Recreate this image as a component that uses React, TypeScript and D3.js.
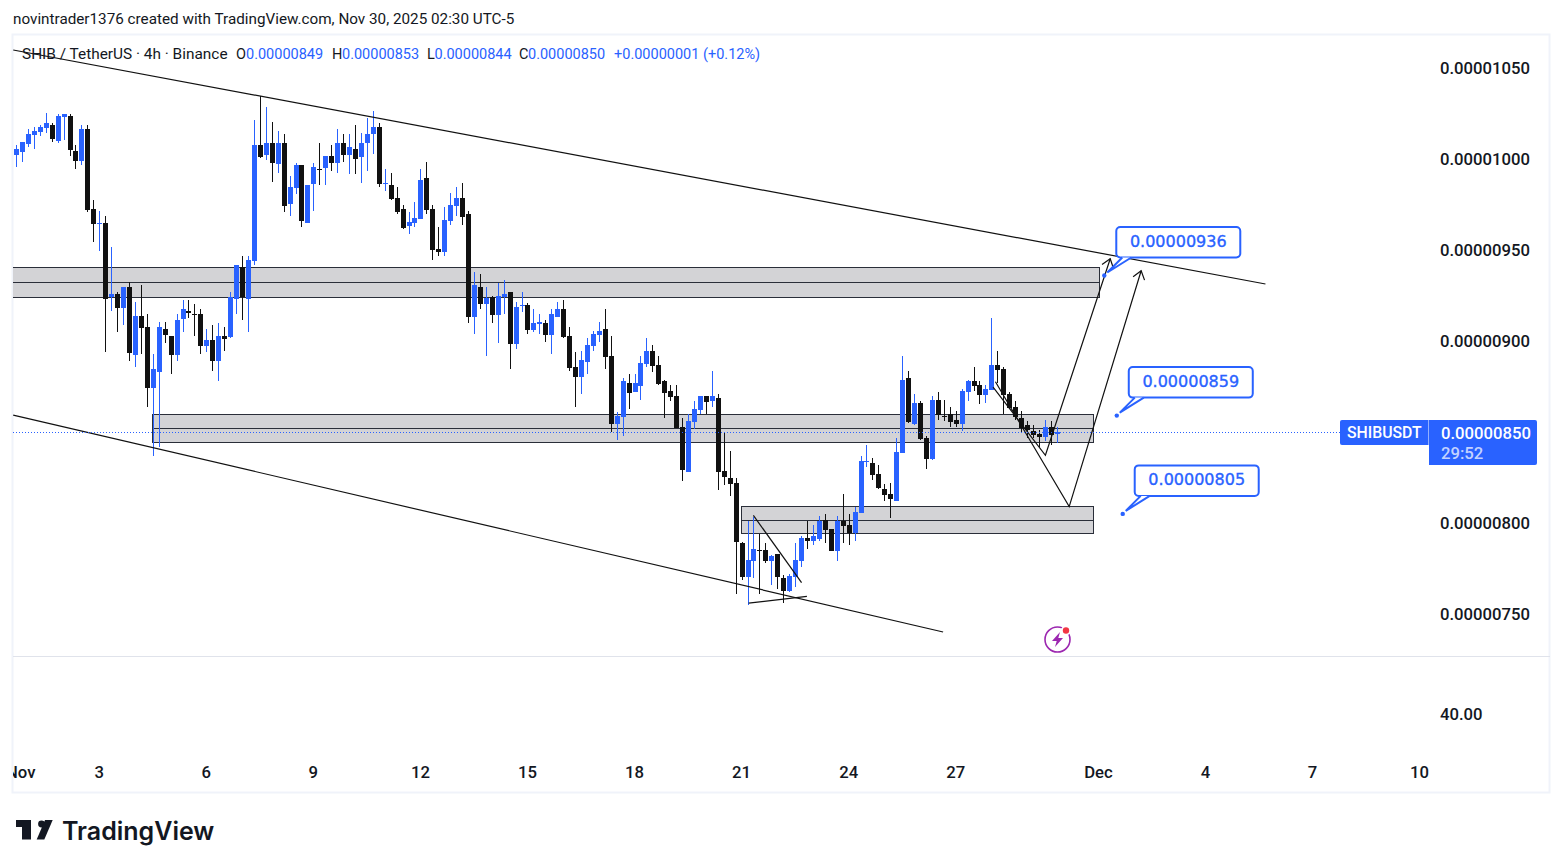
import React, { useEffect, useRef } from 'react';
import * as d3 from 'd3';

// prices are kept as price x 1e8, bars are 4h apart, index 0 is the first visible bar
const opens = [
  1002.2, 1003.8, 1008.2, 1013.2, 1014.8, 1017.0, 1018.7, 1009.9, 1023.1, 1023.6, 1004.4, 998.9, 1016.5, 972.5, 964.5, 964.8,
  924.0, 925.8, 918.1, 929.7, 892.3, 913.7, 907.7, 874.2, 883.0, 906.6, 902.7, 892.3, 912.1, 916.5, 914.8, 914.8,
  897.2, 900.5, 889.0, 902.7, 902.2, 923.1, 940.6, 923.1, 943.9, 1007.7, 1002.2, 1008.8, 997.2, 1008.8, 975.3, 984.1,
  996.7, 964.8, 986.3, 994.5, 995.0, 1001.6, 997.8, 1008.8, 1002.2, 1005.5, 1001.1, 1008.8, 1013.7, 1017.6, 986.4, 985.7,
  978.6, 972.5, 963.2, 964.8, 967.0, 989.5, 972.5, 950.5, 948.9, 965.9, 974.2, 978.6, 969.8, 913.2, 929.7, 920.3,
  924.2, 914.3, 924.2, 926.9, 898.3, 919.4, 919.8, 906.0, 909.5, 909.9, 903.3, 913.2, 917.6, 902.7, 885.7, 880.2,
  888.5, 897.2, 903.3, 906.6, 891.8, 854.4, 858.2, 876.9, 872.0, 875.3, 887.4, 894.5, 886.8, 878.0, 872.5, 869.8,
  852.7, 828.0, 855.5, 862.1, 869.8, 867.0, 868.7, 828.6, 824.7, 822.0, 789.0, 770.3, 779.1, 785.2, 785.2, 779.1,
  783.0, 769.8, 762.6, 770.3, 779.1, 791.8, 790.1, 791.2, 801.6, 796.7, 784.6, 801.1, 798.9, 794.5, 805.5, 833.5,
  833.0, 826.9, 818.7, 815.9, 812.1, 838.4, 879.6, 854.4, 865.9, 846.7, 835.1, 867.5, 858.8, 859.9, 856.6, 854.4,
  871.9, 878.0, 875.8, 870.3, 873.0, 886.8, 884.6, 870.8, 863.7, 857.7, 853.8, 850.5, 848.9, 847.2, 852.7, 848.8,
];
const closes = [
  1005.5, 1009.3, 1013.7, 1015.4, 1017.6, 1019.8, 1011.0, 1023.6, 1024.7, 1004.9, 998.9, 1016.5, 972.0, 964.3, 964.8, 923.1,
  925.8, 918.1, 929.7, 893.4, 913.7, 907.1, 874.2, 884.6, 907.7, 903.3, 892.3, 911.5, 917.6, 915.4, 914.3, 897.2,
  900.5, 889.0, 902.7, 901.1, 924.0, 941.7, 924.0, 944.5, 1007.7, 1001.1, 1008.8, 997.8, 1008.8, 974.2, 984.6, 996.7,
  965.9, 985.7, 995.6, 993.9, 1001.6, 997.8, 1008.8, 1002.2, 1006.6, 1000.0, 1008.8, 1013.7, 1017.6, 986.3, 986.8, 978.0,
  970.9, 962.1, 965.4, 967.6, 988.4, 972.0, 950.0, 948.9, 966.5, 974.7, 978.6, 968.1, 913.2, 930.8, 920.3, 923.6,
  914.3, 924.7, 925.8, 898.3, 918.7, 919.8, 906.0, 909.9, 910.4, 903.3, 914.8, 917.6, 902.2, 885.2, 880.2, 889.6,
  897.8, 903.8, 905.5, 891.2, 854.4, 858.8, 878.0, 871.4, 876.9, 887.9, 894.5, 886.3, 876.4, 871.4, 869.2, 852.2,
  829.1, 856.0, 862.6, 869.8, 866.5, 869.8, 828.0, 825.3, 821.4, 789.6, 770.3, 779.7, 785.7, 784.8, 779.1, 781.9,
  770.3, 762.6, 770.9, 779.7, 791.8, 790.1, 792.9, 801.1, 796.1, 784.6, 801.1, 798.3, 794.5, 806.0, 834.1, 834.1,
  826.4, 819.2, 815.4, 813.2, 839.0, 878.5, 855.5, 865.9, 846.1, 835.1, 867.5, 859.3, 858.4, 855.5, 854.4, 872.5,
  878.0, 875.2, 870.3, 873.6, 886.8, 884.0, 870.3, 863.2, 858.2, 852.2, 851.1, 848.3, 847.2, 852.7, 848.3, 850.0,
];
const highs = [
  1007.7, 1009.5, 1016.5, 1017.6, 1018.7, 1025.3, 1019.8, 1024.7, 1024.7, 1024.7, 1007.7, 1018.7, 1018.7, 977.5, 971.4, 968.7,
  951.6, 926.9, 929.7, 932.4, 921.4, 930.8, 914.8, 892.8, 910.4, 910.4, 902.7, 914.8, 922.5, 922.5, 920.3, 917.6,
  906.6, 908.8, 909.9, 907.7, 926.9, 941.7, 946.7, 946.7, 1021.4, 1034.6, 1028.6, 1020.3, 1015.4, 1013.7, 990.6, 997.8,
  996.7, 985.7, 997.8, 1008.8, 1001.6, 1007.7, 1016.5, 1013.7, 1013.7, 1018.7, 1014.3, 1022.5, 1026.4, 1019.8, 994.5, 992.3,
  984.6, 974.7, 970.9, 976.4, 994.5, 998.3, 974.7, 962.6, 973.6, 981.3, 984.6, 986.8, 971.4, 937.9, 936.8, 929.7,
  924.7, 931.9, 933.5, 926.9, 921.4, 926.9, 920.9, 917.6, 914.8, 911.5, 917.6, 921.4, 922.5, 907.7, 894.0, 894.5,
  901.6, 905.5, 910.4, 917.6, 902.7, 861.0, 879.7, 881.9, 881.9, 891.8, 901.6, 897.8, 891.8, 878.6, 875.8, 875.8,
  857.7, 859.9, 867.0, 869.8, 869.8, 883.5, 870.9, 849.4, 839.6, 824.7, 789.6, 801.1, 803.3, 794.0, 789.0, 782.4,
  783.0, 771.4, 772.0, 789.0, 792.9, 801.1, 798.9, 803.8, 804.9, 796.7, 803.8, 815.9, 804.9, 808.8, 836.8, 842.9,
  835.7, 831.9, 821.4, 822.0, 846.7, 891.7, 883.5, 870.8, 867.0, 847.8, 869.7, 871.9, 867.5, 863.7, 861.5, 873.6,
  878.5, 885.7, 878.0, 875.8, 912.6, 894.5, 885.7, 871.9, 867.0, 861.5, 856.0, 853.8, 851.1, 856.6, 856.0, 852.7,
];
const lows = [
  995.8, 998.3, 1006.6, 1005.5, 1012.6, 1014.3, 1009.3, 1008.8, 1010.4, 1001.6, 994.5, 996.7, 970.9, 954.4, 949.4, 893.9,
  916.5, 904.9, 908.8, 889.0, 885.7, 892.8, 863.7, 836.8, 841.7, 898.9, 881.9, 889.0, 904.9, 912.6, 902.7, 892.8,
  893.9, 883.5, 878.0, 894.5, 901.6, 914.8, 911.5, 904.9, 941.7, 1000.5, 999.4, 987.4, 992.3, 970.9, 968.7, 980.8,
  962.6, 964.8, 971.4, 985.7, 985.7, 993.4, 992.3, 998.3, 991.7, 991.7, 986.8, 993.4, 1002.7, 984.6, 982.4, 977.5,
  969.8, 961.5, 958.8, 962.6, 967.0, 969.8, 944.5, 946.7, 946.7, 963.7, 968.7, 963.7, 909.9, 903.8, 917.6, 891.7,
  909.9, 898.9, 914.8, 884.6, 895.6, 915.9, 903.8, 904.9, 903.8, 899.4, 892.9, 913.2, 901.6, 883.5, 863.7, 870.9,
  881.9, 894.5, 899.4, 884.6, 850.0, 845.6, 847.8, 862.6, 872.0, 867.6, 885.7, 883.0, 875.8, 857.7, 867.0, 852.2,
  823.1, 828.0, 851.6, 859.9, 859.9, 863.7, 818.1, 820.9, 814.8, 761.0, 768.7, 754.9, 769.8, 761.0, 778.0, 765.9,
  763.7, 756.0, 762.1, 764.8, 775.8, 785.7, 787.9, 790.1, 789.0, 784.6, 779.1, 789.0, 787.9, 790.1, 805.5, 830.8,
  823.6, 818.7, 812.1, 802.7, 812.1, 838.4, 854.9, 853.8, 845.6, 829.6, 834.6, 856.6, 856.0, 852.7, 852.7, 850.5,
  867.0, 872.5, 865.4, 865.9, 873.0, 876.9, 859.9, 863.2, 856.6, 849.4, 846.7, 846.7, 841.7, 845.0, 842.8, 843.9,
];

const lastPrice = 850;
const priceTicks = [1050, 1000, 950, 900, 800, 750];
const volumeTick = '40.00';

const timeTickBars = [0.8, 14, 32, 50, 68, 86, 104, 122, 140, 158, 182, 200, 218, 236];
const timeTickLabels = ['Nov', '3', '6', '9', '12', '15', '18', '21', '24', '27', 'Dec', '4', '7', '10'];

// support and resistance boxes, in bars and prices
const zoneStarts = [-1, 22.8, 121.9];
const zoneEnds = [182.06, 181.1, 181.1];
const zoneTops = [940.4, 859.6, 809.1];
const zoneMids = [932.1, 851.9, 801.4];
const zoneBottoms = [923.9, 844.2, 794.2];

// trend lines as [bar, price] pairs
const channelUpper: [number, number][] = [[-0.55, 1059.9], [210, 931.3]];
const channelLower: [number, number][] = [[-0.55, 859.3], [155.8, 740.1]];
const wedgeUpper: [number, number][] = [[123.9, 804.2], [132, 767.2]];
const wedgeLower: [number, number][] = [[123.1, 756], [132.9, 759.7]];
const pathNear: [number, number][] = [[164.2, 874.7], [173, 837.2], [183.9, 945.2]];
const pathFar: [number, number][] = [[164.6, 877.6], [177, 809], [189.1, 938.6]];

const calloutBars = [182.9, 185, 186];
const calloutPrices = [936, 859, 805];

const legendTitle = 'SHIB / TetherUS · 4h · Binance';
const legendKeys = ['O', 'H', 'L', 'C'];
const legendValues = ['0.00000849', '0.00000853', '0.00000844', '0.00000850'];
const legendChange = '+0.00000001 (+0.12%)';

const BLUE = '#2962ff';
const BLACK = '#111111';
const UI_FONT = 'Roboto, sans-serif';

const fmt = (v: number) => (v / 1e8).toFixed(8);

export default function App() {
  const svgRef = useRef<SVGSVGElement>(null);

  useEffect(() => {
    if (!svgRef.current) return;

    const svg = d3.select(svgRef.current);
    svg.selectAll('*').remove();

    const x = d3.scaleLinear().domain([0, 175]).range([16.5, 1057.3]);
    const y = d3.scaleLinear().domain([750, 1050]).range([614, 68]);

    const defs = svg.append('defs');
    defs.append('clipPath').attr('id', 'pane')
      .append('rect').attr('x', 13).attr('y', 35).attr('width', 1416).attr('height', 621);
    defs.append('clipPath').attr('id', 'timeclip')
      .append('rect').attr('x', 13).attr('y', 750).attr('width', 1416).attr('height', 42);

    // frame
    svg.append('text')
      .attr('x', 13).attr('y', 24)
      .attr('font-family', UI_FONT).attr('font-size', 15.25).attr('fill', '#131722')
      .text('novintrader1376 created with TradingView.com, Nov 30, 2025 02:30 UTC-5');

    svg.append('rect')
      .attr('x', 12.5).attr('y', 34.5).attr('width', 1537).attr('height', 758)
      .attr('fill', 'none').attr('stroke', '#f0f3fa').attr('stroke-width', 2);
    svg.append('line')
      .attr('x1', 13).attr('x2', 1550).attr('y1', 656.5).attr('y2', 656.5)
      .attr('stroke', '#e0e3eb');

    const pane = svg.append('g').attr('clip-path', 'url(#pane)');

    // zones
    const zones = pane.append('g').attr('shape-rendering', 'crispEdges')
      .selectAll('g').data(zoneStarts).enter().append('g');
    zones.append('rect')
      .attr('x', (_, i) => x(zoneStarts[i]))
      .attr('y', (_, i) => y(zoneTops[i]))
      .attr('width', (_, i) => x(zoneEnds[i]) - x(zoneStarts[i]))
      .attr('height', (_, i) => y(zoneBottoms[i]) - y(zoneTops[i]))
      .attr('fill', '#d3d3d6').attr('stroke', '#2a2e39').attr('stroke-width', 1);
    zones.append('line')
      .attr('x1', (_, i) => x(zoneStarts[i]))
      .attr('x2', (_, i) => x(zoneEnds[i]))
      .attr('y1', (_, i) => y(zoneMids[i]))
      .attr('y2', (_, i) => y(zoneMids[i]))
      .attr('stroke', '#2a2e39').attr('stroke-width', 1);

    // candles
    const candles = pane.append('g').attr('shape-rendering', 'crispEdges')
      .selectAll('g').data(d3.range(opens.length)).enter().append('g')
      .attr('fill', (i: number) => (closes[i] >= opens[i] ? BLUE : BLACK));
    candles.append('rect')
      .attr('x', (i: number) => Math.floor(x(i)))
      .attr('width', 1)
      .attr('y', (i: number) => Math.round(y(highs[i])))
      .attr('height', (i: number) => Math.max(1, Math.round(y(lows[i])) - Math.round(y(highs[i]))));
    candles.append('rect')
      .attr('x', (i: number) => Math.floor(x(i)) - 2)
      .attr('width', 5)
      .attr('y', (i: number) => Math.round(y(Math.max(opens[i], closes[i]))))
      .attr('height', (i: number) => Math.max(1, Math.round(y(Math.min(opens[i], closes[i]))) - Math.round(y(Math.max(opens[i], closes[i])))));

    // drawings
    const line = d3.line<[number, number]>().x(d => x(d[0])).y(d => y(d[1]));
    [channelUpper, channelLower, wedgeUpper, wedgeLower, pathNear, pathFar].forEach(pts => {
      pane.append('path')
        .attr('d', line(pts))
        .attr('fill', 'none').attr('stroke', BLACK).attr('stroke-width', 1.2);
    });

    // open arrow heads on the two projected paths
    [pathNear, pathFar].forEach(pts => {
      const [a, b] = pts.slice(-2);
      const angle = Math.atan2(y(b[1]) - y(a[1]), x(b[0]) - x(a[0]));
      const head = [angle + 2.5, angle - 2.5].map(t => [x(b[0]) + 10 * Math.cos(t), y(b[1]) + 10 * Math.sin(t)]);
      pane.append('path')
        .attr('d', `M${head[0][0]},${head[0][1]}L${x(b[0])},${y(b[1])}L${head[1][0]},${head[1][1]}`)
        .attr('fill', 'none').attr('stroke', BLACK).attr('stroke-width', 1.2);
    });

    // callouts
    calloutBars.forEach((bar, i) => {
      const ax = x(bar);
      const ay = y(calloutPrices[i]);
      const g = svg.append('g').attr('transform', `translate(${ax},${ay})`);
      g.append('circle').attr('r', 2.2).attr('fill', BLUE);
      g.append('rect')
        .attr('x', 12).attr('y', -48.5).attr('width', 124).attr('height', 30.5).attr('rx', 4)
        .attr('fill', '#fff').attr('stroke', BLUE).attr('stroke-width', 2);
      g.append('path')
        .attr('d', 'M18,-18L3,-3L27,-18Z')
        .attr('fill', '#fff');
      g.append('path')
        .attr('d', 'M18,-18L3,-3L27,-18')
        .attr('fill', 'none').attr('stroke', BLUE).attr('stroke-width', 2);
      g.append('text')
        .attr('x', 74).attr('y', -34.5).attr('dy', '.36em')
        .attr('text-anchor', 'middle')
        .attr('font-family', 'DejaVu Sans, sans-serif').attr('font-size', 16).attr('font-weight', 500)
        .attr('fill', BLUE).attr('stroke', BLUE).attr('stroke-width', 0.35)
        .text(fmt(calloutPrices[i]));
    });

    // last price line
    svg.append('line')
      .attr('x1', 13).attr('x2', 1340).attr('y1', y(lastPrice) + 0.5).attr('y2', y(lastPrice) + 0.5)
      .attr('stroke', BLUE).attr('stroke-dasharray', '1 2');

    // price axis
    const priceAxis = svg.append('g')
      .attr('transform', 'translate(1440,0)')
      .call(d3.axisRight(y).tickValues(priceTicks).tickFormat(d => fmt(+d)).tickSize(0).tickPadding(0));
    priceAxis.select('.domain').remove();
    priceAxis.selectAll('text')
      .attr('font-family', UI_FONT).attr('font-size', 16.7).attr('font-weight', 500).attr('fill', '#131722');

    svg.append('text')
      .attr('x', 1440).attr('y', 714).attr('dy', '.34em')
      .attr('font-family', UI_FONT).attr('font-size', 16.7).attr('font-weight', 500).attr('fill', '#131722')
      .text(volumeTick);

    // time axis
    const timeAxis = svg.append('g')
      .attr('clip-path', 'url(#timeclip)')
      .append('g')
      .attr('transform', 'translate(-1,766)')
      .call(d3.axisBottom(x).tickValues(timeTickBars).tickFormat((_, i) => timeTickLabels[i]).tickSize(0).tickPadding(0));
    timeAxis.select('.domain').remove();
    timeAxis.selectAll('text')
      .attr('font-family', UI_FONT).attr('font-size', 16.7).attr('font-weight', 500).attr('fill', '#131722');

    // last price tags
    svg.append('path')
      .attr('d', 'M1342,420H1428.5V445H1342a2,2 0 0 1 -2,-2V422a2,2 0 0 1 2,-2Z')
      .attr('fill', BLUE);
    svg.append('text')
      .attr('x', 1347).attr('y', 432.5).attr('dy', '.36em')
      .attr('font-family', UI_FONT).attr('font-size', 15.8).attr('font-weight', 500).attr('fill', '#fff')
      .text('SHIBUSDT');
    svg.append('path')
      .attr('d', 'M1429,420H1535a2,2 0 0 1 2,2V463a2,2 0 0 1 -2,2H1429Z')
      .attr('fill', BLUE);
    svg.append('text')
      .attr('x', 1441).attr('y', 432.5).attr('dy', '.36em')
      .attr('font-family', UI_FONT).attr('font-size', 16.7).attr('font-weight', 500).attr('fill', '#fff')
      .text(fmt(lastPrice));
    svg.append('text')
      .attr('x', 1441).attr('y', 452.5).attr('dy', '.36em')
      .attr('font-family', UI_FONT).attr('font-size', 16.7).attr('font-weight', 500).attr('fill', '#c3d2ff')
      .text('29:52');

    // legend
    const legendSize = 14.5;
    svg.append('text')
      .attr('x', 22).attr('y', 59)
      .attr('font-family', UI_FONT).attr('font-size', 15.4).attr('fill', '#131722')
      .text(legendTitle);
    const keyX = [236, 332, 427, 519];
    const valueX = [246, 342, 434.5, 528];
    legendKeys.forEach((k, i) => {
      svg.append('text').attr('x', keyX[i]).attr('y', 59)
        .attr('font-family', UI_FONT).attr('font-size', legendSize).attr('fill', '#131722')
        .text(k);
      svg.append('text').attr('x', valueX[i]).attr('y', 59)
        .attr('font-family', UI_FONT).attr('font-size', legendSize).attr('fill', BLUE)
        .text(legendValues[i]);
    });
    svg.append('text').attr('x', 614).attr('y', 59)
      .attr('font-family', UI_FONT).attr('font-size', legendSize).attr('fill', BLUE)
      .text(legendChange);

    // alert icon
    const icon = svg.append('g').attr('transform', 'translate(1057.5,639.5)');
    icon.append('circle').attr('r', 12.5)
      .attr('fill', 'none').attr('stroke', '#9c27b0').attr('stroke-width', 1.6);
    icon.append('path')
      .attr('d', 'M2.5,-7.5L-5.5,1.5H-0.8L-2.5,7.5L5.5,-1.5H0.8Z')
      .attr('fill', '#9c27b0');
    icon.append('circle').attr('cx', 8.5).attr('cy', -9).attr('r', 5).attr('fill', '#fff');
    icon.append('circle').attr('cx', 8.5).attr('cy', -9).attr('r', 3.2).attr('fill', '#f23645');

    // logo
    const logo = svg.append('g').attr('fill', '#131722');
    logo.append('path').attr('d', 'M16,820H31V839.5H22V827H16Z');
    logo.append('circle').attr('cx', 41.5).attr('cy', 824).attr('r', 3.4);
    logo.append('path').attr('d', 'M45,820H52.7L44.3,839.5H36.7Z');
    logo.append('text')
      .attr('x', 62).attr('y', 839.5)
      .attr('font-family', 'Inter, sans-serif').attr('font-size', 25).attr('font-weight', 600)
      .text('TradingView');
  }, []);

  return (
    <svg
      ref={svgRef}
      width={1563}
      height={868}
      style={{ position: 'absolute', left: 0, top: 0, background: '#fff' }}
    />
  );
}
